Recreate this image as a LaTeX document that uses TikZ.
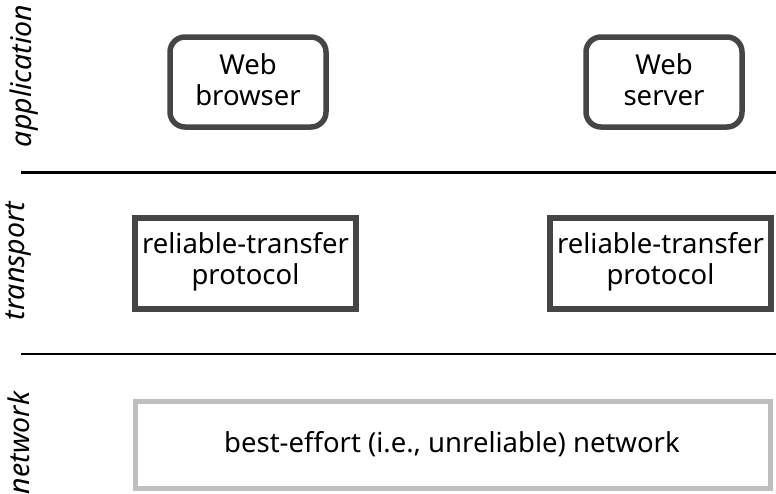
\documentclass[tikz,border=0pt]{standalone}
\usepackage{fontspec}
\setmainfont{Noto Sans}
\begin{document}
\begin{tikzpicture}[x=1pt,y=-1pt,
  appbox/.style={draw=black!73,line width=5.5pt,rounded corners=15pt,fill=white},
  tbox/.style={draw=black!73,line width=5.5pt,fill=white},
  netbox/.style={draw=black!25,line width=5pt,fill=white},
  lbl/.style={font=\fontsize{27.5}{31}\selectfont,align=center,inner sep=0pt},
  layer/.style={font=\fontsize{28.5}{31}\itshape\selectfont,rotate=90,inner sep=0pt},
  sep/.style={line width=2.2pt}]
\useasboundingbox (0,0) rectangle (776,493);
\draw[appbox] (170,37) rectangle (326,127);
\node[lbl] (wb) at (248,80) {Web\\browser};
\draw[appbox] (586,37) rectangle (742,127);
\node[lbl] (ws) at (664,80) {Web\\server};
\draw[tbox] (135,218) rectangle (356,309);
\node[lbl] (t1) at (245.5,262) {reliable-transfer\\protocol};
\draw[tbox] (550,218) rectangle (771,309);
\node[lbl] (t2) at (660.5,262) {reliable-transfer\\protocol};
\draw[netbox] (135,401) rectangle (770,488);
\node[lbl] (net) at (452,444) {best-effort (i.e., unreliable) network};
\coordinate (s1a) at (21,172.5); \coordinate (s1b) at (776,172.5);
\coordinate (s2a) at (21,354); \coordinate (s2b) at (776,354);
\draw[sep] (s1a) -- (s1b);
\draw[sep] (s2a) -- (s2b);
\node[layer] (la) at (24,76) {application};
\node[layer] (lt) at (19,261) {transport};
\node[layer] (ln) at (19,443) {network};
\end{tikzpicture}
\end{document}
